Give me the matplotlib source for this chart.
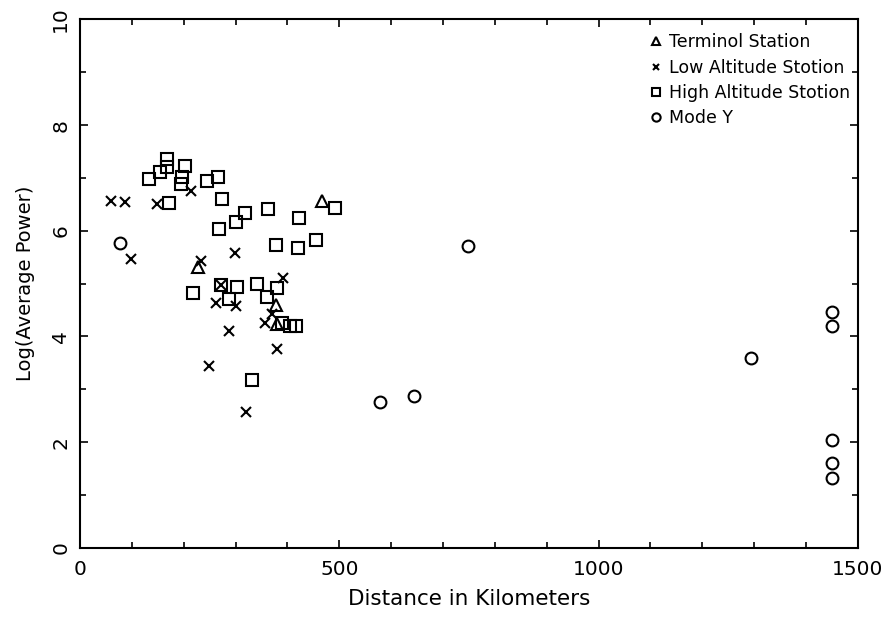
import matplotlib.pyplot as plt
from matplotlib.ticker import MultipleLocator

# distance (km) and log(average power) for each station type
terminal_dist = [228, 467, 378, 379]
terminal_pow = [5.32, 6.56, 4.59, 4.23]

low_dist = [59, 87, 148, 214, 98, 234, 298, 271, 391, 262, 300, 371, 357, 287, 379, 248, 320]
low_pow = [6.57, 6.55, 6.51, 6.75, 5.46, 5.43, 5.57, 4.97, 5.10, 4.63, 4.57, 4.42, 4.25, 4.11, 3.77, 3.44, 2.57]

high_dist = [168, 168, 154, 133, 203, 196, 194, 244, 267, 172, 274, 268, 300, 318, 363, 378,
             422, 456, 421, 491, 217, 271, 303, 341, 380, 287, 361, 389, 405, 416, 332]
high_pow = [7.35, 7.21, 7.12, 6.97, 7.23, 7.02, 6.88, 6.95, 7.02, 6.52, 6.60, 6.03, 6.16, 6.33, 6.42, 5.73,
            6.25, 5.82, 5.68, 6.43, 4.83, 4.97, 4.93, 5.00, 4.92, 4.71, 4.74, 4.25, 4.20, 4.20, 3.18]

mode_y_dist = [78, 579, 645, 748, 1293, 1450, 1450, 1450, 1450, 1450]
mode_y_pow = [5.76, 2.76, 2.88, 5.72, 3.59, 4.46, 4.20, 2.04, 1.61, 1.32]


def power_plot():
    fig = plt.figure(figsize=(8.89, 6.26), dpi=100)
    ax = fig.add_axes([0.090, 0.125, 0.875, 0.844])

    style = dict(linestyle="none", markerfacecolor="none", markeredgecolor="black",
                 markeredgewidth=1.5)
    ax.plot(terminal_dist, terminal_pow, marker="^", markersize=8.5, label="Terminol Station", **style)
    ax.plot(low_dist, low_pow, marker="x", markersize=6.5, label="Low Altitude Stotion", **style)
    ax.plot(high_dist, high_pow, marker="s", markersize=8, label="High Altitude Stotion", **style)
    ax.plot(mode_y_dist, mode_y_pow, marker="o", markersize=8.5, label="Mode Y", **style)

    ax.set_xlim(0, 1500)
    ax.set_ylim(0, 10)
    ax.xaxis.set_major_locator(MultipleLocator(500))
    ax.xaxis.set_minor_locator(MultipleLocator(100))
    ax.yaxis.set_major_locator(MultipleLocator(2))
    ax.yaxis.set_minor_locator(MultipleLocator(1))
    ax.tick_params(which="both", direction="in", top=True, right=True, width=1.2, labelsize=14.5)
    ax.tick_params(which="major", length=6)
    ax.tick_params(which="minor", length=4)
    ax.tick_params(axis="x", pad=9)
    ax.tick_params(axis="y", pad=7)
    for label in ax.get_yticklabels():
        label.set_rotation(90)
        label.set_va("center")
    for spine in ax.spines.values():
        spine.set_linewidth(1.5)

    ax.set_xlabel("Distance in Kilometers", fontsize=15.5, labelpad=7)
    ax.set_ylabel("Log(Average Power)", fontsize=14, labelpad=12)

    ax.legend(loc="upper left", bbox_to_anchor=(0.712, 1.003), frameon=False, fontsize=12.5,
              markerscale=0.7, handlelength=0.8, handletextpad=0.35, labelspacing=0.42)

    plt.savefig("out.png", dpi=100)


if __name__ == "__main__":
    power_plot()
